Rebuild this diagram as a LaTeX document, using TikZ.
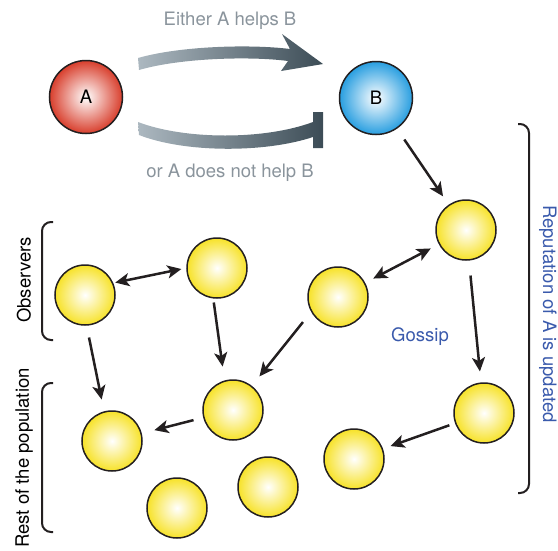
\documentclass[tikz,border=0pt]{standalone}
\usepackage{fontspec}
\setmainfont{TeX Gyre Heros}
\usepackage{tikz}
\usetikzlibrary{arrows.meta}
\tikzset{>={Stealth[length=14pt,width=13pt,inset=3.5pt]}}
\definecolor{ink}{RGB}{35,31,32}
\definecolor{ballyellow}{RGB}{247,226,40}
\definecolor{ballred}{RGB}{216,62,44}
\definecolor{ballblue}{RGB}{40,158,224}
\definecolor{bandlight}{RGB}{172,184,192}
\definecolor{banddark}{RGB}{60,76,86}
\definecolor{labelgray}{RGB}{138,148,156}
\definecolor{labelblue}{RGB}{58,90,172}
\tikzset{
  ball/.style={circle, draw=ink, line width=1.5pt, inner sep=0pt, minimum size=60pt, inner color=white, outer color=ballyellow},
  agent/.style={ball, minimum size=73pt},
  flow/.style={draw=ink, line width=2.5pt, shorten >=10pt, shorten <=10pt},
  bracketline/.style={draw=ink, line width=2pt, rounded corners=9pt},
  txt/.style={font=\fontsize{18.5}{22}\selectfont}
}

\begin{document}
\begin{tikzpicture}[x=1pt,y=-1pt]
    \useasboundingbox (0,0) rectangle (558,550);
    % the two possible actions of A
    \shade [left color=bandlight, right color=banddark] (138,58) .. controls (180,46) and (250,44) .. (290,49) -- (282,34) -- (323,64) -- (281,71) -- (288,61) .. controls (250,56) and (180,58) .. (139,70) -- cycle;
    \shade [left color=bandlight, right color=banddark] (138,122) .. controls (185,140) and (265,140) .. (313,122) -- (313,112) -- (323,112) -- (323,148) -- (313,148) -- (313,137) .. controls (265,153) and (185,153) .. (139,135) -- cycle;
    \node (either) at (230,21) [txt, text=labelgray]{Either A helps B};
    \node (ornot) at (230,173) [txt, text=labelgray]{or A does not help B};
    \node (A) at (86,97) [agent, outer color=ballred, txt]{A};
    \node (B) at (376,98) [agent, outer color=ballblue, txt]{B};
    % population
    \node (g1) at (466,230) [ball]{};
    \node (g2) at (338,297) [ball]{};
    \node (g3) at (484,413) [ball]{};
    \node (g4) at (354,459) [ball]{};
    \node (o1) at (85,295) [ball]{};
    \node (o2) at (217,268) [ball]{};
    \node (m) at (233,410) [ball]{};
    \node (r1) at (112,441) [ball]{};
    \node (r2) at (177,508) [ball]{};
    \node (r3) at (268,487) [ball]{};
    \draw [flow, ->, shorten <=13pt] (B) -- (g1);
    \draw [flow, <->, shorten <=9pt, shorten >=9pt] (g1) -- (g2);
    \draw [flow, ->, shorten <=15pt, shorten >=11pt] (g1) -- (g3);
    \draw [flow, ->, shorten <=6pt, shorten >=8pt] (g3) -- (g4);
    \draw [flow, ->, shorten <=13pt, shorten >=12pt] (g2.209) -- (m.52);
    \draw [flow, <->, shorten <=2pt, shorten >=5pt] (o1.23) -- (o2.180);
    \draw [flow, ->, shorten <=4pt, shorten >=14pt] (o2.263) -- (m.106);
    \draw [flow, ->, shorten <=12pt, shorten >=12pt] (o1.273) -- (r1.105);
    \draw [flow, ->, shorten >=13pt] (m) -- (r1);
    \node (gossip) at (420,337) [txt, text=labelblue]{Gossip};
    % brackets
    \draw [bracketline] (53,222) -- (42,222) -- (42,340) -- (53,340);
    \draw [bracketline] (53,383) -- (42,383) -- (42,532) -- (53,532);
    \draw [bracketline] (518,124) -- (529,124) -- (529,493) -- (518,493);
    \node (obs) at (24,280) [txt, rotate=90]{Observers};
    \node (rest) at (24,458) [txt, rotate=90]{Rest of the population};
    \node (rep) at (548,314) [txt, rotate=-90, text=labelblue]{Reputation of A is updated};
  \end{tikzpicture}
\end{document}
